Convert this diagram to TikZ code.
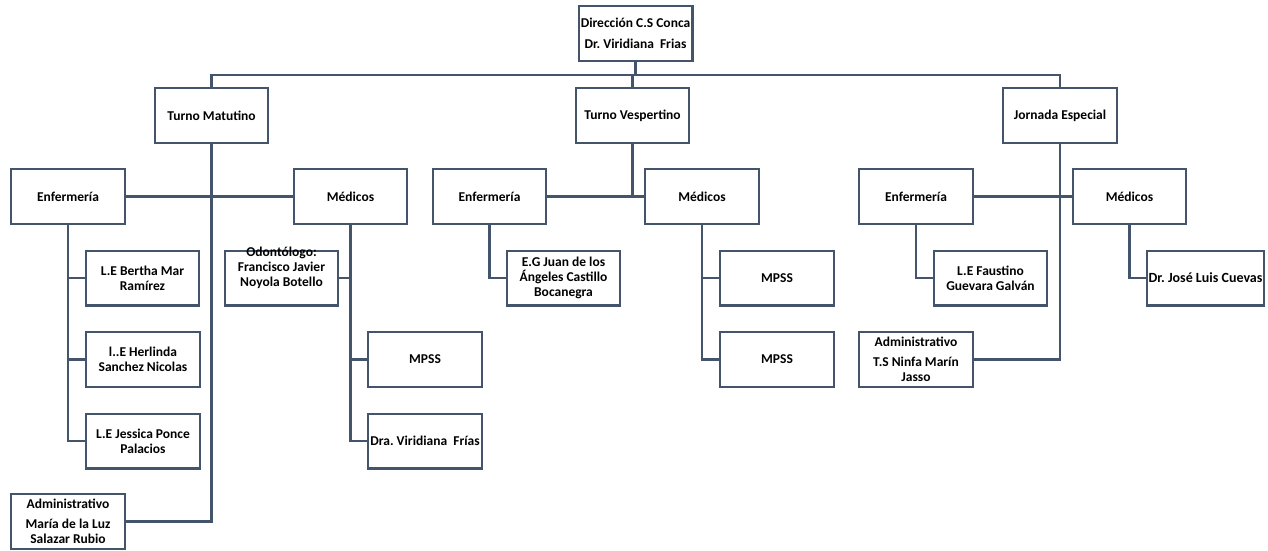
\documentclass[tikz,border=0pt]{standalone}
\usepackage{fontspec}
\setmainfont{Carlito}
\definecolor{ln}{HTML}{44546A}
\begin{document}
\begin{tikzpicture}[x=1pt,y=-1pt,
  box/.style={draw=ln, line width=2.2pt, fill=white, rectangle, inner sep=1pt,
    minimum width=113.8pt, minimum height=54.8pt, align=center,
    font=\fontsize{13.5}{15}\selectfont\bfseries\frenchspacing},
  txt/.style={inner sep=0pt, align=center, font=\fontsize{13.5}{15}\selectfont\bfseries\frenchspacing},
  conn/.style={draw=ln, line width=2.2pt}]
\useasboundingbox (0,0) rectangle (1268,551);

% level 1
\node[box] (dir) at (635.5,33.5) {Dirección C.S Conca\\[6pt]Dr. Viridiana~ Frias};
% level 2
\node[box, minimum width=112.8pt] (tm) at (211.5,115.5) {Turno Matutino};
\node[box, minimum width=112.8pt] (tv) at (632.5,115.5) {Turno Vespertino};
\node[box] (je) at (1060,115.5) {Jornada Especial};
% level 3
\node[box] (em) at (68,196.5) {Enfermería};
\node[box, minimum width=112.8pt] (mm) at (350.5,196.5) {Médicos};
\node[box, minimum width=112.8pt] (ev) at (489.5,196.5) {Enfermería};
\node[box] (mv) at (702,196.5) {Médicos};
\node[box] (ej) at (916,196.5) {Enfermería};
\node[box, minimum width=112.8pt] (mj) at (1129.5,196.5) {Médicos};
% row 1
\node[box, minimum width=112.8pt] (bertha) at (142.5,278) {L.E Bertha Mar\\Ramírez};
\node[box, minimum width=112.8pt] (odont) at (281.5,278) {};
\node[txt] (odtxt) at (281.5,268) {Odontólogo:\\Francisco Javier\\Noyola Botello};
\node[box, minimum width=112.8pt] (juan) at (563.5,278) {E.G Juan de los\\Ángeles Castillo\\Bocanegra};
\node[box] (mpssva) at (777,278) {MPSS};
\node[box, minimum width=112.8pt] (faust) at (990.5,278) {L.E Faustino\\Guevara Galván};
\node[box, minimum width=116.8pt, inner sep=0pt, font=\fontsize{14}{15}\selectfont\bfseries\frenchspacing] (jose) at (1205.5,278) {Dr. José Luis Cuevas};
% row 2
\node[box] (herl) at (143,359.5) {l..E Herlinda\\Sanchez Nicolas};
\node[box] (mpssm) at (425,359.5) {MPSS};
\node[box] (mpssvb) at (777,359.5) {MPSS};
\node[box] (ninfa) at (916,359.5) {Administrativo\\[5pt]T.S Ninfa Marín\\Jasso};
% row 3
\node[box] (jess) at (143,441) {L.E Jessica Ponce\\Palacios};
\node[box] (dra) at (425,441) {Dra. Viridiana~ Frías};
% admin
\node[box] (admin) at (68,521.5) {Administrativo\\[5pt]María de la Luz\\Salazar Rubio};

% connectors
\coordinate (bus) at (0,75);
\draw[conn] (dir.south) -- (dir.south |- bus);
\draw[conn] (tm.north) |- (je.north |- bus) -- (je.north);
\draw[conn] (tv.north) -- (tv.north |- bus);

\draw[conn] (tm.south) |- (admin.east);
\draw[conn] (em.east) -- (mm.west);
\draw[conn] (em.south) |- (jess.west);
\draw[conn] (em.south |- bertha.west) -- (bertha.west);
\draw[conn] (em.south |- herl.west) -- (herl.west);
\draw[conn] (mm.south) |- (dra.west);
\draw[conn] (mm.south |- odont.east) -- (odont.east);
\draw[conn] (mm.south |- mpssm.west) -- (mpssm.west);

\draw[conn] (tv.south) -- (tv.south |- ev.east);
\draw[conn] (ev.east) -- (mv.west);
\draw[conn] (ev.south) |- (juan.west);
\draw[conn] (mv.south) |- (mpssvb.west);
\draw[conn] (mv.south |- mpssva.west) -- (mpssva.west);

\draw[conn] (je.south) |- (ninfa.east);
\draw[conn] (ej.east) -- (mj.west);
\draw[conn] (ej.south) |- (faust.west);
\draw[conn] (mj.south) |- (jose.west);
\end{tikzpicture}
\end{document}
